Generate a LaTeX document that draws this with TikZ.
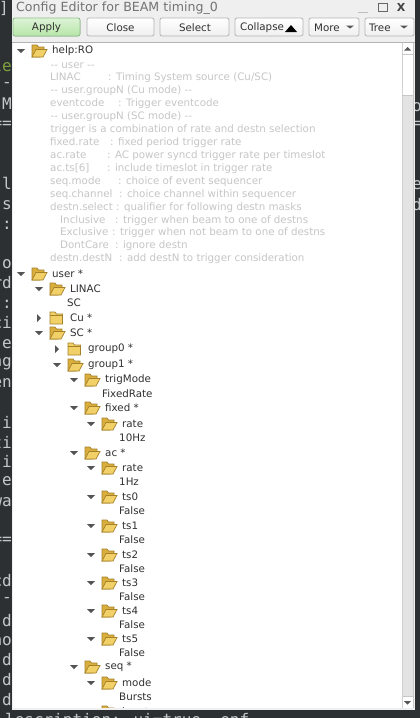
\documentclass[tikz,border=0pt]{standalone}
\usepackage{fontspec}
\setmainfont{DejaVu Sans}
\newfontfamily\termfont{DejaVu Sans Mono}
\definecolor{termbg}{HTML}{2C3033}
\definecolor{termfg}{HTML}{C4C8C8}
\definecolor{termgreen}{HTML}{7FA03C}
\definecolor{winbg}{HTML}{EFEFEF}
\definecolor{btnedge}{HTML}{B4B4B4}
\definecolor{helpgray}{HTML}{C6C6C6}
\definecolor{treefg}{HTML}{303030}
\definecolor{toggle}{HTML}{555555}
\definecolor{foldfill}{HTML}{F2D068}
\definecolor{foldedge}{HTML}{A5812A}
\definecolor{foldback}{HTML}{D9AE3C}
\definecolor{applytop}{HTML}{DDF3D6}
\definecolor{applybot}{HTML}{B6E6A8}
\definecolor{applyedge}{HTML}{8FC08A}
\tikzset{
  x=1pt,y=-1pt,
  term/.style={font=\termfont\fontsize{16}{16}\selectfont,text=termfg,anchor=east,inner sep=0pt},
  btn/.style={draw=btnedge,rounded corners=2pt,line width=.8pt,top color=white,bottom color=winbg},
  btnlabel/.style={font=\fontsize{10.3}{12}\selectfont,text=treefg,inner sep=0pt},
  helpline/.style={font=\fontsize{10.3}{12}\selectfont,text=helpgray,anchor=west,inner sep=0pt},
  treeline/.style={font=\fontsize{10.3}{12}\selectfont,text=treefg,anchor=west,inner sep=0pt},
  menutip/.style={fill=toggle,draw=none},
}
% open folder with toggle and label
\newcommand{\openitem}[4]{% id, folder x, y, label
  \fill[toggle] (#2-15,#3-2) -- (#2-7,#3-2) -- (#2-11,#3+2) -- cycle;
  \filldraw[fill=foldback,draw=foldedge,line width=.7pt] (#2,#3+6) -- (#2,#3-6) -- (#2+5,#3-6) -- (#2+6.5,#3-4) -- (#2+12,#3-4) -- (#2+12,#3-1) -- (#2+8,#3+6) -- cycle;
  \filldraw[fill=foldfill,draw=foldedge,line width=.7pt] (#2,#3+6) -- (#2+4,#3-1.5) -- (#2+15,#3-1.5) -- (#2+11,#3+6) -- cycle;
  \node[treeline] (#1) at (#2+20,#3) {#4};
}
% closed folder with toggle and label
\newcommand{\closeditem}[4]{%
  \fill[toggle] (#2-13,#3-4) -- (#2-13,#3+4) -- (#2-9,#3) -- cycle;
  \filldraw[fill=foldfill,draw=foldedge,line width=.7pt] (#2,#3+6) -- (#2,#3-6) -- (#2+5,#3-6) -- (#2+6.5,#3-4) -- (#2+12.5,#3-4) -- (#2+12.5,#3+6) -- cycle;
  \draw[foldedge,line width=.5pt] (#2,#3-2.5) -- (#2+12.5,#3-2.5);
  \node[treeline] (#1) at (#2+20,#3) {#4};
}
\newcommand{\valueitem}[4]{\node[treeline] (#1) at (#2,#3) {#4};}
\newcommand{\hlp}[6]{% id, x, y, colon offset, left, right
  \node[helpline] (#1) at (#2,#3) {\makebox[#4pt][l]{#5}#6};
}
\newcommand{\frag}[4][termfg]{\node[term,text=#1] (#2) at (12,#3) {#4};}
\begin{document}
\begin{tikzpicture}
\useasboundingbox (0,0) rectangle (420,718);
\clip (0,0) rectangle (420,718);
% terminal behind the window
\fill[termbg] (0,0) rectangle (420,718);
\node[term] (fa) at (9,8) {-]};
\frag[termgreen]{fb}{65}{le}
\frag{fc}{85}{-}
\frag{fd}{104}{M}
\frag{fe}{125}{==}
\frag{ff}{183}{l}
\frag{fg}{205}{s}
\frag{fh}{225}{:}
\frag{fi}{264}{o}
\frag{fj}{283}{rd}
\frag{fk}{304}{:}
\frag{fl}{323}{ci}
\frag{fm}{344}{e}
\frag{fn}{364}{ng}
\frag{fo}{383}{en}
\frag{fp}{422}{i}
\frag{fq}{442}{ti}
\frag{fr}{461}{i}
\frag{fs}{481}{e}
\frag{ft}{502}{wa}
\frag{fu}{541}{==}
\frag{fv}{581}{cd}
\frag{fw}{600}{-}
\frag{fx}{621}{d}
\frag{fy}{641}{no}
\frag{fz}{660}{d}
\frag{ga}{680}{d}
\frag{gb}{700}{d}
\node[term,anchor=west] (ra) at (412,107) {o};
\node[term,anchor=west] (rb) at (412,125) {=};
\node[term,anchor=west] (rc) at (412,185) {e};
\node[term,anchor=west] (rd) at (412,205) {d};
\node[term,anchor=west] (bot) at (5,721) {lescription: ui=true, enf};
% window
\fill[winbg] (12,0) rectangle (415,710);
\node[font=\fontsize{12.6}{14}\selectfont,text=black!55,anchor=west,inner sep=0pt] (title) at (16,8) {Config Editor for BEAM timing\_0};
\draw[black!25,line width=.8pt] (358,12.5) -- (368,12.5);
\draw[black!60,line width=.9pt] (378,3) rectangle (387,11);
\node[font=\bfseries\fontsize{11}{12}\selectfont,text=black!75,inner sep=0pt] (closex) at (401,7) {X};
% buttons
\filldraw[draw=applyedge,rounded corners=2pt,line width=.8pt,top color=applytop,bottom color=applybot] (13,18) rectangle (80,36);
\node[btnlabel] (apply) at (46.5,27.5) {Apply};
\draw[btn] (87,18) rectangle (154,36);
\node[btnlabel] (close) at (120.5,27.5) {Close};
\draw[btn] (160,18) rectangle (229,36);
\node[btnlabel] (select) at (195,27.5) {Select};
\draw[btn] (235,18) rectangle (303,36);
\node[btnlabel,anchor=west] (collapse) at (240,27.5) {Collapse};
\fill[black] (285,32) -- (297,32) -- (291,25) -- cycle;
\draw[btn] (309,18) rectangle (359,36);
\node[btnlabel,anchor=west] (more) at (314,27.5) {More};
\fill[menutip] (346,25.5) -- (354,25.5) -- (350,28.5) -- cycle;
\draw[btn] (365,18) rectangle (414,36);
\node[btnlabel,anchor=west] (tree) at (369,27.5) {Tree};
\fill[menutip] (400,25.5) -- (408,25.5) -- (404,28.5) -- cycle;
% tree area
\draw[black!30,line width=.8pt] (12,42.5) -- (415,42.5);
\fill[white] (13,43) rectangle (402,708);
% scrollbar
\fill[white] (402,43) rectangle (413,708);
\draw[black!18,line width=.6pt] (402,43) -- (402,708);
\fill[black!11] (402.5,95) rectangle (413,696);
\draw[black!22,line width=.5pt] (402,54.5) -- (413,54.5) (402,696.5) -- (413,696.5) (402,95) -- (413,95) (413,43) -- (413,708);
\fill[toggle] (404,50.5) -- (411,50.5) -- (407.5,47) -- cycle;
\fill[toggle] (404,701) -- (411,701) -- (407.5,704.5) -- cycle;
% help
\openitem{help}{32}{51}{help:RO}
\hlp{ha}{50}{66}{0}{-{}- user -{}-}{}
\hlp{hb}{50}{78}{58}{LINAC}{: Timing System source (Cu/SC)}
\hlp{hc}{50}{91}{0}{-{}- user.groupN (Cu mode) -{}-}{}
\hlp{hd}{50}{104}{68}{eventcode}{: Trigger eventcode}
\hlp{he}{50}{117}{0}{-{}- user.groupN (SC mode) -{}-}{}
\hlp{hf}{50}{130}{0}{trigger is a combination of rate and destn selection}{}
\hlp{hg}{50}{143}{60}{fixed.rate}{: fixed period trigger rate}
\hlp{hh}{50}{156}{57}{ac.rate}{: AC power syncd trigger rate per timeslot}
\hlp{hi}{50}{168.5}{57}{ac.ts[6]}{: include timeslot in trigger rate}
\hlp{hj}{50}{182}{68}{seq.mode}{: choice of event sequencer}
\hlp{hk}{50}{195}{69}{seq.channel}{: choice channel within sequencer}
\hlp{hl}{50}{208}{66}{destn.select}{: qualifier for following destn masks}
\hlp{hm}{60}{220.5}{55}{Inclusive}{: trigger when beam to one of destns}
\hlp{hn}{60}{233}{52}{Exclusive}{: trigger when not beam to one of destns}
\hlp{ho}{60}{246}{55}{DontCare}{: ignore destn}
\hlp{hp}{50}{259}{69}{destn.destN}{: add destN to trigger consideration}
% tree
\openitem{user}{32}{274}{user *}
\openitem{linac}{50}{289}{LINAC}
\valueitem{vsc}{67}{303}{SC}
\closeditem{cu}{50}{318}{Cu *}
\openitem{sc}{50}{333}{SC *}
\closeditem{gzero}{68}{349}{group0 *}
\openitem{gone}{68}{365}{group1 *}
\openitem{trigmode}{85}{380}{trigMode}
\valueitem{vfr}{102}{394}{FixedRate}
\openitem{fixed}{85}{408}{fixed *}
\openitem{rateA}{102}{424}{rate}
\valueitem{vten}{119}{438}{10Hz}
\openitem{ac}{85}{453}{ac *}
\openitem{rateB}{102}{468}{rate}
\valueitem{vone}{119}{482}{1Hz}
\openitem{tsa}{102}{497}{ts0}
\valueitem{va}{119}{511}{False}
\openitem{tsb}{102}{526}{ts1}
\valueitem{vb}{119}{540}{False}
\openitem{tsc}{102}{555}{ts2}
\valueitem{vc}{119}{569}{False}
\openitem{tsd}{102}{583}{ts3}
\valueitem{vd}{119}{597}{False}
\openitem{tse}{102}{611}{ts4}
\valueitem{ve}{119}{625}{False}
\openitem{tsf}{102}{639}{ts5}
\valueitem{vf}{119}{653}{False}
\openitem{seq}{85}{667}{seq *}
\openitem{mode}{102}{683}{mode}
\valueitem{vbursts}{119}{697}{Bursts}
\begin{scope}
\clip (13,690) rectangle (402,707);
\openitem{burst}{102}{712}{burst}
\end{scope}
\end{tikzpicture}
\end{document}
